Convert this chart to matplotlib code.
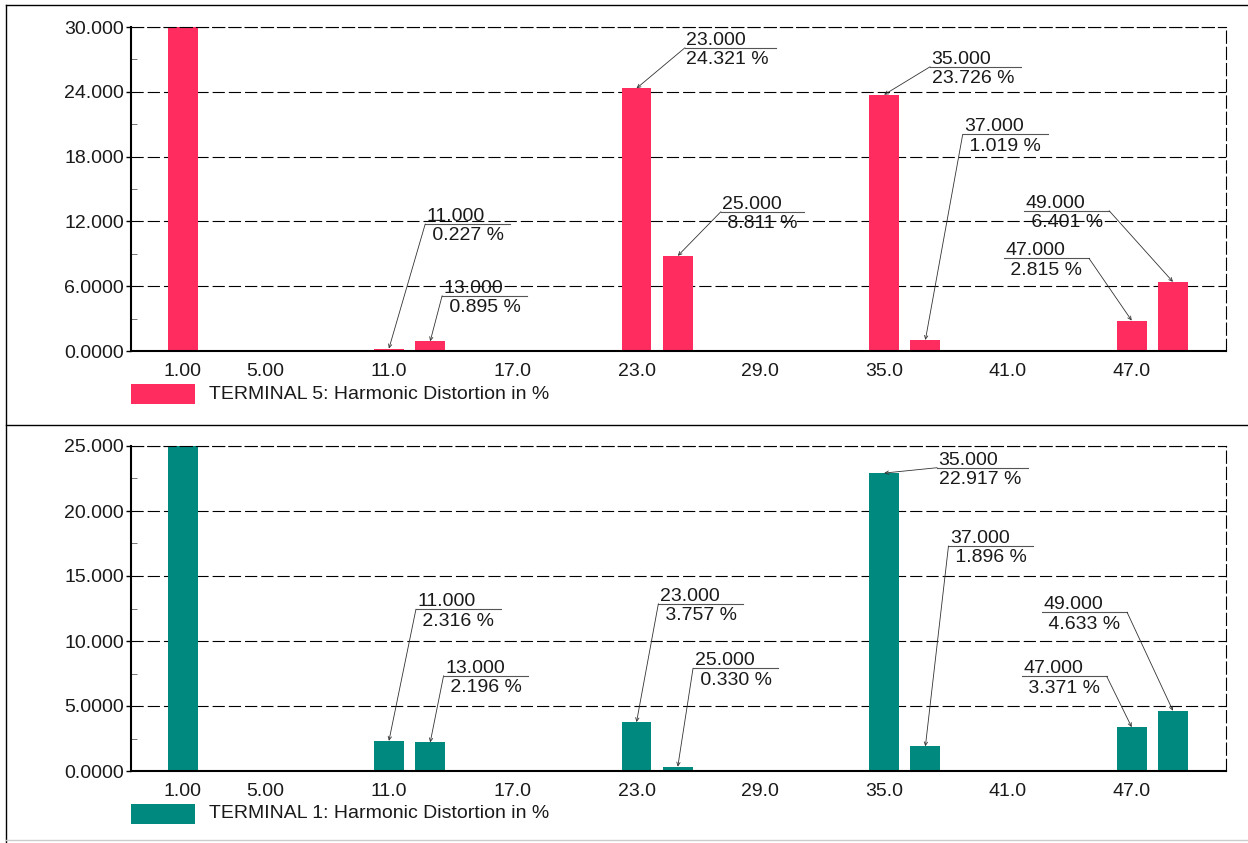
import matplotlib
matplotlib.use("Agg")
import matplotlib.pyplot as plt
from matplotlib.patches import Rectangle
from matplotlib.lines import Line2D
from matplotlib.ticker import FixedLocator, FixedFormatter
from matplotlib.transforms import offset_copy

plt.rcParams["font.family"] = ["Liberation Sans", "DejaVu Sans"]

# Harmonic orders and distortion (% of fundamental) per terminal
harmonic_orders = [1, 5, 7, 11, 13, 17, 19, 23, 25, 29, 31, 35, 37, 41, 43, 47, 49]
terminal5_hd = [100.0, 0.03, 0.03, 0.227, 0.895, 0.03, 0.03, 24.321, 8.811,
                0.03, 0.03, 23.726, 1.019, 0.03, 0.03, 2.815, 6.401]
terminal1_hd = [100.0, 0.02, 0.02, 2.316, 2.196, 0.02, 0.02, 3.757, 0.330,
                0.02, 0.02, 22.917, 1.896, 0.02, 0.02, 3.371, 4.633]

x_ticks = [1, 5, 11, 17, 23, 29, 35, 41, 47]
x_tick_labels = ["1.00", "5.00", "11.0", "17.0", "23.0", "29.0", "35.0", "41.0", "47.0"]

t5_y_ticks = [0, 6, 12, 18, 24, 30]
t5_y_tick_labels = ["0.0000", "6.0000", "12.000", "18.000", "24.000", "30.000"]
t1_y_ticks = [0, 5, 10, 15, 20, 25]
t1_y_tick_labels = ["0.0000", "5.0000", "10.000", "15.000", "20.000", "25.000"]

# Label boxes: harmonic order and the left end of the label's underline
t5_labelled = [11, 13, 23, 25, 35, 37, 47, 49]
t5_label_x = [12.76, 13.58, 25.35, 27.09, 37.23, 38.81, 40.81, 41.78]
t5_label_y = [11.76, 5.12, 28.08, 12.90, 26.32, 20.06, 8.58, 12.99]

t1_labelled = [11, 13, 23, 25, 35, 37, 47, 49]
t1_label_x = [12.31, 13.65, 24.06, 25.74, 37.57, 38.12, 41.67, 42.65]
t1_label_y = [12.44, 7.33, 12.87, 7.90, 23.33, 17.31, 7.28, 12.21]

PINK = "#FF2D5F"
TEAL = "#00897F"
TEXT = "#1a1a1a"
FS = 14

W, H = 1248, 843
fig = plt.figure(figsize=(W / 100, H / 100), dpi=100)
renderer = fig.canvas.get_renderer()


def fx(px):
    return px / W


def fy(py):
    return 1 - py / H


def make_axes(top_px, bottom_px, values, color, yticks, ylabels, legend_text,
              legend_y, labelled, lab_x, lab_y):
    ax = fig.add_axes([fx(131), fy(bottom_px), fx(1226) - fx(131),
                       fy(top_px) - fy(bottom_px)])
    ax.bar(harmonic_orders, values, width=1.45, color=color, zorder=2)
    ax.set_xlim(-1.5, 51.57)
    ax.set_ylim(yticks[0], yticks[-1])

    ax.xaxis.set_major_locator(FixedLocator(x_ticks))
    ax.xaxis.set_major_formatter(FixedFormatter(x_tick_labels))
    ax.yaxis.set_major_locator(FixedLocator(yticks))
    ax.yaxis.set_major_formatter(FixedFormatter(ylabels))
    step = yticks[1] - yticks[0]
    ax.yaxis.set_minor_locator(FixedLocator([t + step / 2 for t in yticks[:-1]]))

    ax.tick_params(axis="x", length=0, pad=9, labelsize=FS, labelcolor=TEXT)
    ax.tick_params(axis="y", which="major", direction="out", length=3.5,
                   width=1.0, pad=1.5, labelsize=FS, labelcolor=TEXT)
    ax.tick_params(axis="y", which="minor", direction="in", length=4,
                   width=0.7, color="#777777")

    ax.grid(axis="y", which="major", color="black", linewidth=0.8,
            linestyle=(0, (11, 3.6)))
    ax.set_axisbelow(True)
    for side in ("left", "bottom"):
        ax.spines[side].set_linewidth(1.5)
        ax.spines[side].set_color("black")
    for side in ("top", "right"):
        ax.spines[side].set_linewidth(0.8)
        ax.spines[side].set_linestyle((0, (11, 3.6)))
        ax.spines[side].set_color("black")

    # value call-outs: order above an underline, value below, leader to bar top
    above = offset_copy(ax.transData, fig=fig, x=1.5, y=3, units="dots")
    below = offset_copy(ax.transData, fig=fig, x=1.5, y=-16.5, units="dots")
    for order, lx, ly in zip(labelled, lab_x, lab_y):
        value = values[harmonic_orders.index(order)]
        t_top = ax.text(lx, ly, f"{order:.3f}", transform=above, ha="left",
                        va="baseline", fontsize=FS, color=TEXT)
        t_bot = ax.text(lx, ly, f"{value:6.3f} %", transform=below, ha="left",
                        va="baseline", fontsize=FS, color=TEXT)
        width_px = max(t_top.get_window_extent(renderer).width,
                       t_bot.get_window_extent(renderer).width) + 8
        dx, dy = ax.transData.transform((lx, ly))
        x_end = ax.transData.inverted().transform((dx + width_px, dy))[0]
        ax.plot([lx, x_end], [ly, ly], color="#555555", linewidth=0.8,
                clip_on=False, zorder=4)
        start = (lx, ly) if lx > order else (x_end, ly)
        ax.annotate("", xy=(order, value), xytext=start,
                    arrowprops=dict(arrowstyle="->,head_length=0.25,head_width=0.12",
                                    color="#333333", lw=0.6,
                                    shrinkA=0, shrinkB=0),
                    zorder=4, annotation_clip=False)

    # legend swatch and caption
    fig.add_artist(Rectangle((fx(131), fy(legend_y + 10)), fx(195) - fx(131),
                             fy(legend_y - 10) - fy(legend_y + 10),
                             transform=fig.transFigure, facecolor=color,
                             edgecolor="none"))
    fig.text(fx(209), fy(legend_y), legend_text, fontsize=FS, color=TEXT,
             ha="left", va="center")
    return ax


make_axes(27, 351, terminal5_hd, PINK, t5_y_ticks, t5_y_tick_labels,
          "TERMINAL 5: Harmonic Distortion in %", 394,
          t5_labelled, t5_label_x, t5_label_y)
make_axes(446, 771, terminal1_hd, TEAL, t1_y_ticks, t1_y_tick_labels,
          "TERMINAL 1: Harmonic Distortion in %", 814,
          t1_labelled, t1_label_x, t1_label_y)

# panel frames
for (x0, y0, x1, y1, c) in [(6, 5, W, 5, "black"), (6, 425, W, 425, "black"),
                            (6, 5, 6, H, "black"), (6, 840, W, 840, "#cccccc")]:
    fig.add_artist(Line2D([fx(x0), fx(x1)], [fy(y0), fy(y1)],
                          transform=fig.transFigure, color=c, linewidth=1.0))

fig.savefig("out.png", dpi=100, facecolor="white")
